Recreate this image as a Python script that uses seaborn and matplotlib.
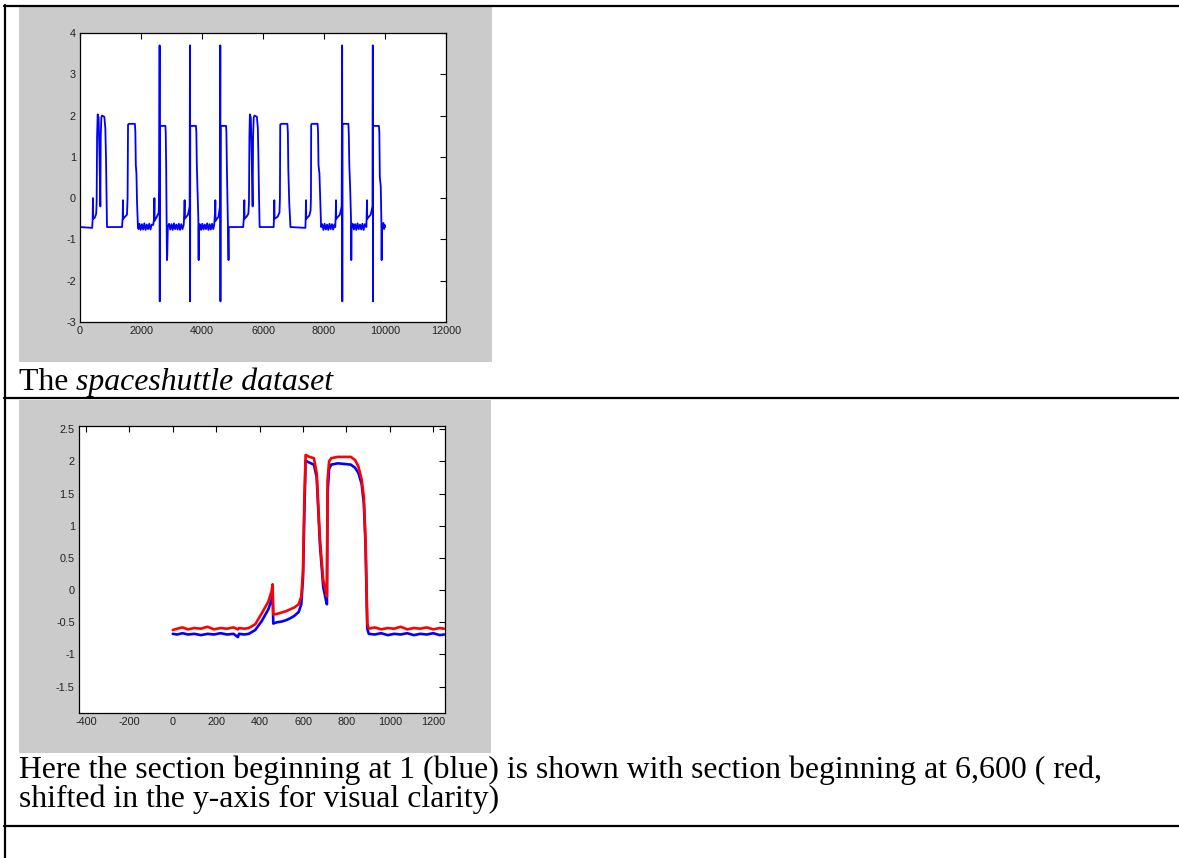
import matplotlib
matplotlib.use("Agg")
import matplotlib.pyplot as plt
import seaborn as sns
import pandas as pd
from matplotlib.patches import Rectangle
from matplotlib.lines import Line2D

# ---------------- data ----------------
# Panel 1: the spaceshuttle dataset (breakpoints)
shuttle_x = [
    0, 400, 415, 425, 430, 480, 530, 546, 560, 580, 610, 640, 667, 680, 700, 721, 798, 830, 852, 870, 885,
    1380, 1400, 1410, 1415, 1480, 1540, 1560, 1575, 1600, 1800, 1815, 1830, 1850, 1870, 1900, 1920,
    1950, 1990, 2030, 2070, 2110, 2150, 2190, 2230, 2270, 2310, 2350,
    2400, 2430, 2440, 2445, 2520, 2580, 2600, 2610, 2615, 2620, 2800, 2810, 2825, 2850, 2860, 2880,
    2920, 2960, 3000, 3040, 3080, 3120, 3160, 3200, 3240, 3280, 3320, 3360,
    3400, 3420, 3430, 3435, 3540, 3595, 3605, 3610, 3615, 3800, 3815, 3830, 3850, 3880, 3890, 3895,
    3930, 3970, 4010, 4050, 4090, 4130, 4170, 4210, 4250, 4290, 4330, 4370,
    4400, 4430, 4437, 4445, 4540, 4590, 4600, 4605, 4610, 4790, 4800, 4815, 4850, 4870, 4880,
    5350, 5370, 5388, 5395, 5460, 5520, 5540, 5555, 5570, 5600, 5630, 5660, 5675, 5695, 5720, 5800, 5830, 5850, 5870, 5890,
    6350, 6360, 6371, 6380, 6480, 6540, 6555, 6565, 6600, 6800, 6815, 6830, 6860, 6900,
    7390, 7400, 7410, 7418, 7520, 7560, 7572, 7580, 7600, 7790, 7805, 7820, 7850, 7880, 7905,
    7940, 7980, 8020, 8060, 8100, 8140, 8180, 8220, 8260, 8300, 8340,
    8370, 8385, 8393, 8400, 8520, 8580, 8595, 8600, 8605, 8800, 8815, 8830, 8860, 8885, 8895, 8905,
    8940, 8980, 9020, 9060, 9100, 9140, 9180, 9220, 9260, 9300, 9340,
    9390, 9400, 9410, 9418, 9530, 9590, 9600, 9605, 9610, 9800, 9815, 9830, 9860, 9880, 9890, 9900, 9950, 9970, 9990, 10000,
]
shuttle_y = [
    -0.70, -0.72, -0.50, 0.00, -0.50, -0.48, -0.38, -0.10, 1.50, 2.03, 1.95, 1.00, -0.20, 1.50, 1.95, 2.00, 1.97, 1.70, 1.00, 0.00, -0.70,
    -0.70, -0.45, -0.05, -0.50, -0.45, -0.40, 0.00, 1.78, 1.80, 1.80, 1.60, 0.80, 0.60, -0.10, -0.70, -0.75,
    -0.62, -0.77, -0.63, -0.76, -0.61, -0.77, -0.64, -0.75, -0.62, -0.76, -0.64,
    -0.65, -0.50, 0.00, -0.55, -0.45, -0.35, 0.20, 3.70, -2.50, 1.75, 1.75, 1.60, 0.80, -1.50, -1.40, -0.70,
    -0.62, -0.76, -0.63, -0.77, -0.61, -0.75, -0.64, -0.76, -0.62, -0.77, -0.63, -0.75,
    -0.65, -0.40, -0.05, -0.50, -0.40, -0.20, 3.70, -2.50, 1.75, 1.75, 1.60, 0.80, 0.30, -0.50, -1.50, -0.70,
    -0.63, -0.77, -0.62, -0.76, -0.64, -0.75, -0.61, -0.77, -0.63, -0.76, -0.62, -0.75,
    -0.65, -0.30, -0.05, -0.55, -0.45, -0.20, 3.70, -2.50, 1.75, 1.75, 1.60, 0.80, -0.70, -1.50, -0.70,
    -0.70, -0.50, -0.05, -0.50, -0.45, -0.38, -0.10, 1.50, 2.03, 1.95, 1.00, -0.20, 1.50, 1.95, 2.00, 1.97, 1.70, 1.00, 0.00, -0.70,
    -0.70, -0.45, -0.05, -0.50, -0.45, -0.35, 0.00, 1.78, 1.80, 1.80, 1.60, 0.70, -0.10, -0.70,
    -0.72, -0.45, -0.05, -0.50, -0.42, -0.30, 0.00, 1.78, 1.80, 1.80, 1.60, 0.80, 0.60, -0.10, -0.70,
    -0.63, -0.77, -0.62, -0.76, -0.64, -0.77, -0.62, -0.75, -0.63, -0.76, -0.64,
    -0.70, -0.40, -0.05, -0.50, -0.40, -0.20, 3.70, -2.50, 1.80, 1.80, 1.50, 0.80, 0.20, -0.50, -1.50, -0.70,
    -0.62, -0.76, -0.63, -0.77, -0.61, -0.75, -0.64, -0.76, -0.62, -0.77, -0.63,
    -0.70, -0.40, -0.05, -0.50, -0.40, -0.20, 3.70, -2.50, 1.75, 1.75, 1.60, 0.50, 0.30, -0.50, -1.50, -0.65, -0.60, -0.75, -0.65, -0.70,
]

# Panel 2: section beginning at 1 (blue) and at 6,600 (red, shifted)
section_x = [
    0, 20, 45, 70, 100, 130, 160, 190, 220, 250, 280, 300, 305, 330, 350,
    380, 410, 440, 455, 460, 463, 480, 500, 520, 540, 560, 580, 592, 600, 606, 612,
    630, 650, 663, 678, 693, 705, 710, 713, 720, 730, 760, 790, 820, 840, 855, 870, 880, 888, 896,
    903, 930, 960, 990, 1020, 1050, 1080, 1110, 1140, 1170, 1200, 1230, 1250,
]
blue_y = [
    -0.68, -0.69, -0.67, -0.69, -0.68, -0.70, -0.68, -0.69, -0.67, -0.69, -0.68, -0.73, -0.68, -0.69, -0.68,
    -0.62, -0.48, -0.30, -0.15, -0.05, -0.52, -0.50, -0.49, -0.47, -0.44, -0.40, -0.34, -0.22, 0.20, 1.20, 2.01,
    1.98, 1.95, 1.75, 0.70, 0.05, -0.15, -0.22, 1.50, 1.88, 1.95, 1.97, 1.96, 1.95, 1.90, 1.82, 1.65, 1.35, 0.70, -0.60,
    -0.68, -0.69, -0.67, -0.70, -0.68, -0.69, -0.67, -0.70, -0.68, -0.69, -0.67, -0.70, -0.69,
]
red_y = [
    -0.62, -0.60, -0.58, -0.61, -0.59, -0.60, -0.57, -0.61, -0.59, -0.60, -0.58, -0.61, -0.59, -0.60, -0.59,
    -0.53, -0.36, -0.18, -0.02, 0.09, -0.38, -0.37, -0.35, -0.33, -0.30, -0.27, -0.22, -0.10, 0.30, 1.40, 2.10,
    2.07, 2.05, 1.82, 0.78, 0.16, -0.02, -0.10, 1.71, 2.00, 2.05, 2.07, 2.07, 2.07, 2.02, 1.92, 1.72, 1.45, 0.78, -0.52,
    -0.60, -0.58, -0.61, -0.59, -0.60, -0.57, -0.61, -0.59, -0.60, -0.58, -0.61, -0.59, -0.60,
]

shuttle_xticks = [0, 2000, 4000, 6000, 8000, 10000, 12000]
shuttle_yticks = [-3, -2, -1, 0, 1, 2, 3, 4]
section_xticks = [-400, -200, 0, 200, 400, 600, 800, 1000, 1200]
section_yticks = [-1.5, -1, -0.5, 0, 0.5, 1, 1.5, 2, 2.5]

caption1_plain = "The "
caption1_italic = "spaceshuttle dataset"
caption2_lines = [
    "Here the section beginning at 1 (blue) is shown with section beginning at 6,600 ( red,",
    "shifted in the y-axis for visual clarity)",
]

# ---------------- figure ----------------
sns.set_theme(style="white")
plt.rcParams["font.family"] = ["Liberation Sans", "DejaVu Sans"]

W, H = 1179, 858
fig = plt.figure(figsize=(W / 100, H / 100), dpi=100)
fig.patch.set_facecolor("white")


def fx(px):
    return px / W


def fy(py):
    return 1 - py / H


# gray panels behind the plots
for (x0, y0, x1, y1) in [(19, 7, 492, 362), (19, 400, 491, 753)]:
    fig.patches.append(Rectangle((fx(x0), fy(y1)), fx(x1) - fx(x0), fy(y0) - fy(y1),
                                 transform=fig.transFigure, facecolor="#cbcbcb",
                                 edgecolor="none", zorder=-5))

# table rules
for yy in [6, 398, 826]:
    fig.add_artist(Line2D([fx(4), 1.0], [fy(yy), fy(yy)], transform=fig.transFigure,
                          color="black", lw=1.6))
fig.add_artist(Line2D([fx(5), fx(5)], [fy(5), 0.0], transform=fig.transFigure,
                      color="black", lw=1.6))


def fmt(v):
    if float(v).is_integer():
        return str(int(v))
    return ("%g" % v)


def style_axes(ax):
    ax.set_facecolor("white")
    ax.set_zorder(2)
    for s in ax.spines.values():
        s.set_visible(True)
        s.set_color("black")
        s.set_linewidth(0.9)
    ax.tick_params(direction="in", length=4, width=0.8, top=True, right=True,
                   labelsize=7.8, colors="black", labelcolor="#222222", pad=3)
    ax.set_xlabel("")
    ax.set_ylabel("")
    ax.grid(False)


# Panel 1
ax1 = fig.add_axes([fx(80), fy(322), fx(446) - fx(80), fy(33) - fy(322)])
df1 = pd.DataFrame({"x": shuttle_x, "y": shuttle_y})
sns.lineplot(data=df1, x="x", y="y", sort=False, estimator=None, color="#0000ff",
             lw=1.3, ax=ax1)
ax1.set_xlim(0, 12000)
ax1.set_ylim(-3, 4)
ax1.set_xticks(shuttle_xticks)
ax1.set_xticklabels([fmt(v) for v in shuttle_xticks])
ax1.set_yticks(shuttle_yticks)
ax1.set_yticklabels([fmt(v) for v in shuttle_yticks])
style_axes(ax1)

# Panel 2
ax2 = fig.add_axes([fx(79), fy(713), fx(445) - fx(79), fy(426) - fy(713)])
df2 = pd.DataFrame({"x": section_x + section_x,
                    "y": red_y + blue_y,
                    "s": ["red"] * len(section_x) + ["blue"] * len(section_x)})
sns.lineplot(data=df2[df2.s == "blue"], x="x", y="y", sort=False, estimator=None,
             color="#0000ff", lw=1.9, ax=ax2)
sns.lineplot(data=df2[df2.s == "red"], x="x", y="y", sort=False, estimator=None,
             color="#ff0000", lw=1.9, ax=ax2)
ax2.set_xlim(-432, 1254)
ax2.set_ylim(-1.91, 2.55)
ax2.set_xticks(section_xticks)
ax2.set_xticklabels([fmt(v) for v in section_xticks])
ax2.set_yticks(section_yticks)
ax2.set_yticklabels([fmt(v) for v in section_yticks])
style_axes(ax2)

# captions
serif = ["Liberation Serif", "DejaVu Serif"]
cap_size = 22.9
t1 = fig.text(fx(19), fy(390), caption1_plain, family=serif, fontsize=cap_size,
              va="baseline", ha="left", color="black")
fig.canvas.draw()
bb = t1.get_window_extent(renderer=fig.canvas.get_renderer())
fig.text(bb.x1 / W, fy(390), caption1_italic, family=serif, fontsize=cap_size,
         style="italic", va="baseline", ha="left", color="black")
for i, line in enumerate(caption2_lines):
    fig.text(fx(19), fy(778 + 28.5 * i), line, family=serif, fontsize=cap_size,
             va="baseline", ha="left", color="black")

fig.savefig("out.png", dpi=100, facecolor="white")
